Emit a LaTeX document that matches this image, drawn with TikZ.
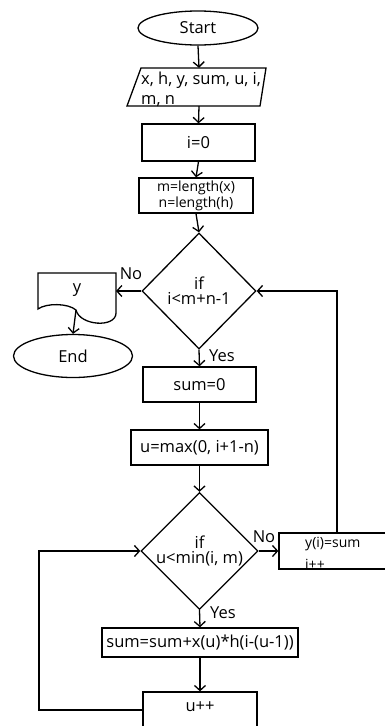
\documentclass[tikz,border=0pt]{standalone}
\usepackage{fontspec}
\setmainfont{Open Sans}
\usetikzlibrary{shapes.geometric,arrows.meta}
\begin{document}
\begin{tikzpicture}[x=1pt,y=-1pt,
  every node/.style={font=\fontsize{16.5}{19}\selectfont, inner sep=0pt},
  box/.style={draw, line width=1.3pt, rectangle},
  term/.style={draw, line width=1.3pt, ellipse},
  cond/.style={draw, line width=1.3pt, diamond, align=center},
  conn/.style={line width=1.3pt, -{Straight Barb[length=5pt,width=11pt]}},
  plain/.style={line width=1.3pt},
  lbl/.style={font=\fontsize{16.5}{19}\selectfont},
  small/.style={font=\fontsize{14}{16}\selectfont}]
\useasboundingbox (0,0) rectangle (385,726);
\clip (0,0) rectangle (385,726);
% nodes
\node[term, minimum width=120pt, minimum height=34pt] (start) at (198,28) {Start};
\draw[plain] (141,68) -- (266,68) -- (260,106) -- (127,106) -- cycle;
\node[minimum width=120pt, minimum height=38pt] (inp) at (199,87) {};
\node[anchor=west] (inptext1) at (141,80) {x, h, y, sum, u, i,};
\node[anchor=west] (inptext2) at (141,101) {m, n};
\node[box, minimum width=113pt, minimum height=37pt] (i0) at (198.5,142.5) {i=0};
\node[box, minimum width=114pt, minimum height=35pt, align=center, small] (mlen) at (196,195.5) {m=length(x)\\n=length(h)};
\node[cond, minimum width=114pt, minimum height=116pt] (d1) at (199,291) {if\\[-4pt]i<m+n-1};
\draw[plain] (38,273) -- (116,273) -- (116,313) .. controls (116,328) and (80,326) .. (76,310) .. controls (68,303) and (46,303) .. (38,309) -- cycle;
\node (doc) at (77,290) {y};
\coordinate (docr) at (116,291);
\coordinate (docb) at (76,310);
\node[term, minimum width=119pt, minimum height=43pt] (end) at (73,356) {End};
\node[box, minimum width=113pt, minimum height=35pt] (sum0) at (199.5,384.5) {sum=0};
\node[box, minimum width=137pt, minimum height=35pt] (umax) at (199.5,447.5) {u=max(0, i+1-n)};
\node[cond, minimum width=115pt, minimum height=114pt] (d2) at (199.5,551) {if\\[-4pt]u<min(i, m)};
\node[box, minimum width=116pt, minimum height=36pt] (yi) at (337,551) {};
\node[small, anchor=west] (yitext1) at (305,544) {y(i)=sum};
\node[small, anchor=west] (yitext2) at (305,564) {i++};
\node[box, minimum width=196pt, minimum height=29pt] (sumsum) at (200,642.5) {sum=sum+x(u)*h(i-(u-1))};
\node[box, minimum width=114pt, minimum height=36pt] (upp) at (200,710) {};
\node (upptext) at (200,707) {u++};
\coordinate (loopa) at (39,710);
\coordinate (loopb) at (39,551);
% connectors
\draw[conn] (start.south) -- (inp.north);
\draw[conn] (inp.south) -- (i0.north);
\draw[conn] (i0.south) -- (mlen.north);
\draw[conn] (mlen.south) -- (d1.north);
\draw[conn] (d1.west) -- (docr);
\draw[conn] (docb) -- (end.north);
\draw[conn] (d1.south) -- (sum0.north);
\draw[conn] (sum0.south) -- (umax.north);
\draw[conn] (umax.south) -- (d2.north);
\draw[conn] (d2.east) -- (yi.west);
\draw[conn] (d2.south) -- (sumsum.north);
\draw[conn] (sumsum.south) -- (upp.north);
\draw[conn] (upp.west) -- (loopa) -- (loopb) -- (d2.west);
\draw[conn] (yi.north) |- (d1.east);
% labels
\node[lbl] (no1) at (131,274) {No};
\node[lbl] (yes1) at (222,356) {Yes};
\node[lbl] (no2) at (264,537) {No};
\node[lbl] (yes2) at (223,613) {Yes};
\end{tikzpicture}
\end{document}
